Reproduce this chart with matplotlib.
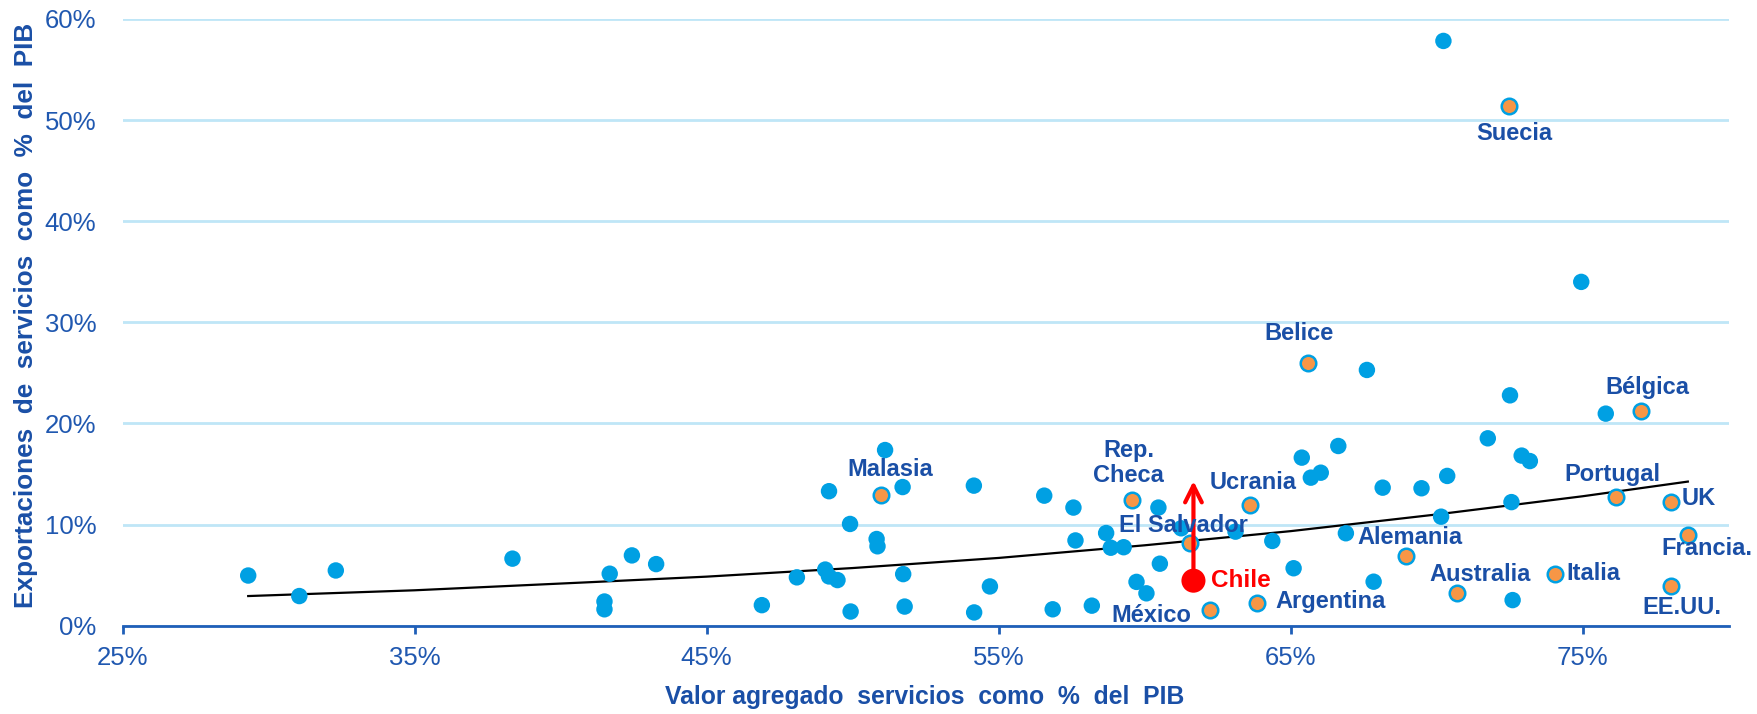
import matplotlib
matplotlib.use("Agg")
import matplotlib.pyplot as plt
from matplotlib.ticker import FuncFormatter

plt.rcParams['font.family'] = ['Liberation Sans', 'DejaVu Sans']

# services value added (% GDP) vs services exports (% GDP), unlabeled countries
blue_x = [29.3, 31.05, 32.3, 38.35, 41.68, 41.5, 41.5, 42.44, 43.27, 46.89, 48.09, 49.06,
          49.19, 49.19, 49.48, 49.91, 49.93, 50.82, 50.85, 51.11, 51.71, 51.73, 51.78,
          54.15, 54.16, 54.70, 56.56, 56.85, 57.56, 57.63, 58.19, 58.68, 58.84, 59.28,
          59.72, 60.06, 60.47, 60.52, 61.25, 63.11, 64.37, 65.10, 65.38, 65.69, 66.03,
          66.63, 66.89, 67.61, 67.84, 68.15, 69.48, 70.15, 70.23, 70.36, 71.75, 72.51,
          72.56, 72.60, 72.91, 73.19, 74.95, 75.79]
blue_y = [4.96, 2.93, 5.46, 6.63, 5.14, 2.39, 1.62, 6.95, 6.09, 2.03, 4.78, 5.55,
          13.3, 4.87, 4.51, 10.06, 1.40, 8.57, 7.85, 17.37, 13.71, 5.10, 1.89,
          13.85, 1.31, 3.88, 12.86, 1.62, 11.68, 8.43, 1.98, 9.16, 7.71, 7.76,
          4.33, 3.20, 11.68, 6.13, 9.63, 9.3, 8.38, 5.68, 16.62, 14.64, 15.13,
          17.77, 9.14, 25.29, 4.35, 13.65, 13.59, 10.78, 57.83, 14.81, 18.53, 22.78,
          12.22, 2.53, 16.82, 16.28, 34.0, 20.97]

# highlighted countries
names = ['Malasia', 'Rep.\nCheca', 'El Salvador', 'México', 'Ucrania', 'Argentina', 'Belice',
         'Alemania', 'Australia', 'Suecia', 'Italia', 'Portugal', 'Bélgica', 'UK',
         'EE.UU.', 'Francia.']
orange_x = [50.98, 59.55, 61.56, 62.25, 63.62, 63.83, 65.58, 68.94, 70.69, 72.49, 74.05,
            76.14, 76.99, 78.01, 78.04, 78.62]
orange_y = [12.9, 12.45, 8.21, 1.55, 11.94, 2.28, 25.95, 6.89, 3.26, 51.42, 5.10,
            12.77, 21.2, 12.22, 3.92, 8.93]

chile_x = 61.67
chile_y = 4.45
chile_target = 14.58

# exponential trend line
trend_x = [29.3, 35, 41, 45, 50, 55, 60, 65, 70, 75, 78.6]
trend_y = [2.93, 3.50, 4.30, 4.85, 5.70, 6.70, 7.95, 9.35, 11.0, 12.8, 14.25]

x_ticks = [25, 35, 45, 55, 65, 75]
y_ticks = [0, 10, 20, 30, 40, 50, 60]

# label placement (data coords): x, y, ha
label_pos = {
    'Malasia': (51.27, 15.47, 'center'),
    'Rep.\nCheca': (59.45, 16.05, 'center'),
    'El Salvador': (61.33, 9.86, 'center'),
    'México': (60.22, 1.0, 'center'),
    'Ucrania': (63.70, 14.12, 'center'),
    'Argentina': (66.35, 2.39, 'center'),
    'Belice': (65.27, 28.9, 'center'),
    'Alemania': (69.10, 8.7, 'center'),
    'Australia': (71.48, 5.1, 'center'),
    'Suecia': (72.65, 48.7, 'center'),
    'Italia': (74.43, 5.19, 'left'),
    'Portugal': (76.0, 14.93, 'center'),
    'Bélgica': (77.23, 23.6, 'center'),
    'UK': (78.4, 12.54, 'left'),
    'EE.UU.': (78.38, 1.76, 'center'),
    'Francia.': (77.68, 7.67, 'left'),
}

BLUE_PT = '#00A0E3'
ORANGE = '#F79646'
TXT = '#1A4FA6'
TICK = '#2058B0'
GRID = '#BFE6F7'
AXIS = '#1F5FB8'

fig = plt.figure(figsize=(17.57, 7.14), dpi=100)
ax = fig.add_axes([0.0698, 0.1237, 0.9141, 0.8497])

ax.yaxis.grid(True, color=GRID, linewidth=2)
ax.set_axisbelow(True)

ax.plot(trend_x, trend_y, color='black', linewidth=1.6, zorder=2)
ax.scatter(blue_x, blue_y, s=140, color=BLUE_PT, edgecolors='none', zorder=3)
ax.scatter(orange_x, orange_y, s=125, color=ORANGE, edgecolors=BLUE_PT, linewidths=1.8, zorder=4)

ax.annotate('', xy=(chile_x, chile_target), xytext=(chile_x, chile_y),
            arrowprops=dict(arrowstyle='->', color='red', lw=3, mutation_scale=30), zorder=5)
ax.scatter([chile_x], [chile_y], s=300, color='red', edgecolors='none', zorder=6)
ax.text(chile_x + 0.6, chile_y, 'Chile', color='red', fontsize=17.5, fontweight='bold',
        ha='left', va='center', zorder=7)

for n in names:
    tx, ty, ha = label_pos[n]
    ax.text(tx, ty, n, color=TXT, fontsize=17, fontweight='bold', ha=ha, va='center',
            linespacing=1.1, zorder=7)

ax.set_xlim(25, 80)
ax.set_ylim(0, 60)
ax.set_xticks(x_ticks)
ax.set_yticks(y_ticks)
pct = FuncFormatter(lambda v, _: f'{v:.0f}%')
ax.xaxis.set_major_formatter(pct)
ax.yaxis.set_major_formatter(pct)

for s in ['top', 'right', 'left']:
    ax.spines[s].set_visible(False)
ax.spines['bottom'].set_color(AXIS)
ax.spines['bottom'].set_linewidth(2)
ax.tick_params(axis='x', direction='out', length=5.8, width=2, color=AXIS,
               labelcolor=TICK, labelsize=18.5, pad=9)
ax.tick_params(axis='y', length=0, labelcolor=TICK, labelsize=18.5, pad=19)

fig.text(925 / 1757, 1 - 697 / 714, 'Valor agregado  servicios  como  %  del  PIB',
         color=TXT, fontsize=17.8, fontweight='bold', ha='center', va='center')
fig.text(26 / 1757, 1 - 315 / 714, 'Exportaciones  de  servicios  como  %  del  PIB',
         color=TXT, fontsize=18.8, fontweight='bold', ha='center', va='center', rotation=90)

fig.savefig('out.png', dpi=100, facecolor='white')
